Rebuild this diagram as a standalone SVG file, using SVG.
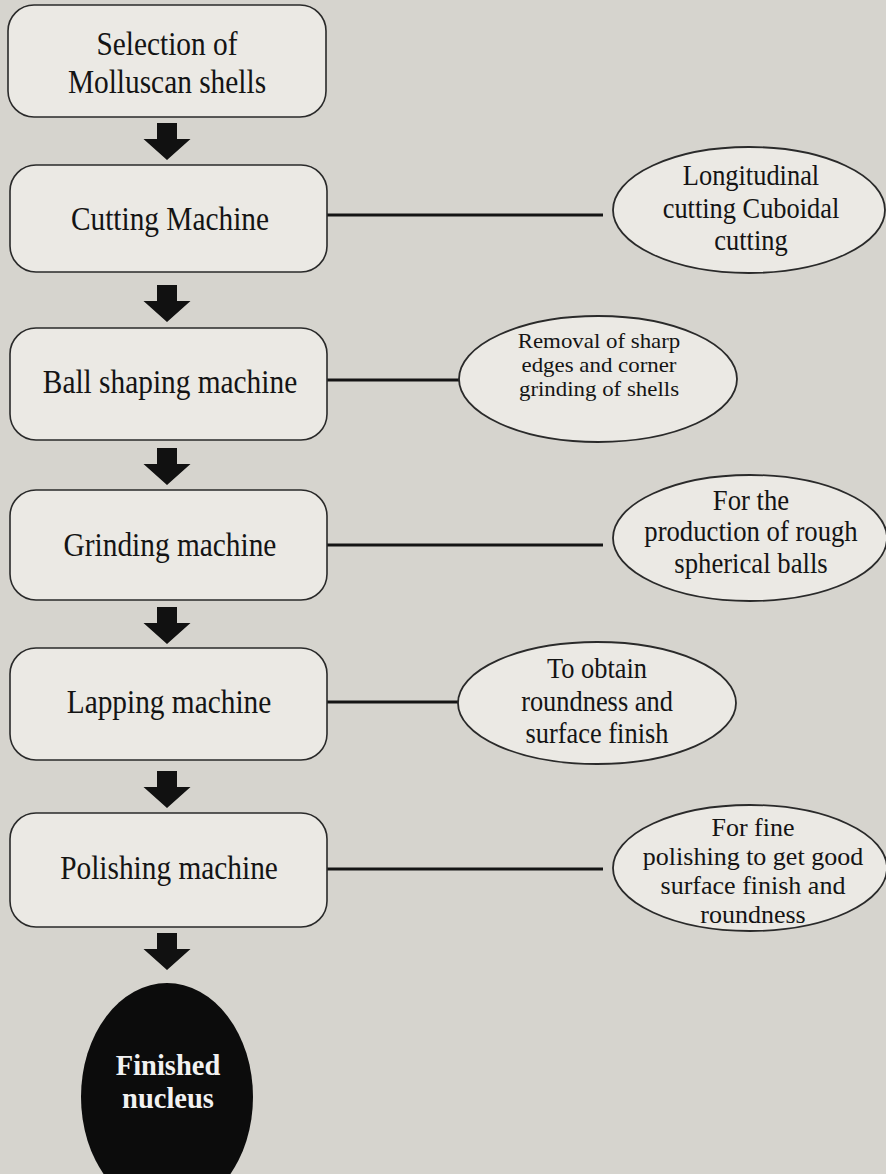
<svg xmlns="http://www.w3.org/2000/svg" width="886" height="1174" viewBox="0 0 886 1174">
  <defs>
    <style>
      .bg { fill: #d6d4ce; }
      .box { fill: #ebe9e4; stroke: #2a2a2a; stroke-width: 1.6; }
      .ell { fill: #ebe9e4; stroke: #2a2a2a; stroke-width: 1.8; }
      .conn { stroke: #141414; stroke-width: 3; fill: none; }
      .arrow { fill: #111111; }
      .t { font-family: "Liberation Serif", "Times New Roman", serif; fill: #141414; text-anchor: middle; }
      .tb { font-size: 33px; }
      .te { font-size: 30px; }
      .ts { font-size: 22px; }
      .tp { font-size: 26px; }
      .tf { font-family: "Liberation Serif", "Times New Roman", serif; font-weight: bold; font-size: 30px; fill: #f2f2f2; text-anchor: middle; }
    </style>
    <path id="arr" d="M -10 0 H 10 V 16 H 23.5 L 0 37 L -23.5 16 H -10 Z"/>
  </defs>

  <rect class="bg" x="0" y="0" width="886" height="1174"/>

  <g id="connectors">
    <line class="conn" x1="327" y1="215" x2="603" y2="215"/>
    <line class="conn" x1="327" y1="380" x2="459" y2="380"/>
    <line class="conn" x1="327" y1="545" x2="603" y2="545"/>
    <line class="conn" x1="327" y1="702" x2="458" y2="702"/>
    <line class="conn" x1="327" y1="869" x2="603" y2="869"/>
    <use href="#arr" class="arrow" x="167" y="123"/>
    <use href="#arr" class="arrow" x="167" y="285"/>
    <use href="#arr" class="arrow" x="167" y="448"/>
    <use href="#arr" class="arrow" x="167" y="607"/>
    <use href="#arr" class="arrow" x="167" y="771"/>
    <use href="#arr" class="arrow" x="167" y="933"/>
  </g>

  <g id="node-selection">
    <rect class="box" x="8" y="5" width="318" height="112" rx="26"/>
    <text class="t tb" transform="translate(167,55) scale(0.89,1)">Selection of</text>
    <text class="t tb" transform="translate(167,93) scale(0.89,1)">Molluscan shells</text>
  </g>

  <g id="node-cutting">
    <rect class="box" x="10" y="165" width="317" height="107" rx="26"/>
    <text class="t tb" transform="translate(170,230) scale(0.89,1)">Cutting Machine</text>
  </g>

  <g id="node-ballshaping">
    <rect class="box" x="10" y="328" width="317" height="112" rx="26"/>
    <text class="t tb" transform="translate(170,393) scale(0.89,1)">Ball shaping machine</text>
  </g>

  <g id="node-grinding">
    <rect class="box" x="10" y="490" width="317" height="110" rx="26"/>
    <text class="t tb" transform="translate(170,556) scale(0.89,1)">Grinding machine</text>
  </g>

  <g id="node-lapping">
    <rect class="box" x="10" y="648" width="317" height="112" rx="26"/>
    <text class="t tb" transform="translate(169,713) scale(0.89,1)">Lapping machine</text>
  </g>

  <g id="node-polishing">
    <rect class="box" x="10" y="813" width="317" height="114" rx="26"/>
    <text class="t tb" transform="translate(169,879) scale(0.89,1)">Polishing machine</text>
  </g>

  <g id="node-finished">
    <ellipse cx="167" cy="1097" rx="86" ry="114" fill="#0c0c0c"/>
    <text class="tf" transform="translate(168,1075) scale(0.95,1)">Finished</text>
    <text class="tf" transform="translate(168,1108) scale(0.95,1)">nucleus</text>
  </g>

  <g id="note-cutting">
    <ellipse class="ell" cx="749" cy="210" rx="136" ry="63"/>
    <text class="t te" transform="translate(751,185) scale(0.88,1)">Longitudinal</text>
    <text class="t te" transform="translate(751,218) scale(0.88,1)">cutting Cuboidal</text>
    <text class="t te" transform="translate(751,250) scale(0.88,1)">cutting</text>
  </g>

  <g id="note-ballshaping">
    <ellipse class="ell" cx="598" cy="379" rx="139" ry="63"/>
    <text class="t ts" transform="translate(599,348) scale(1.04,1)">Removal of sharp</text>
    <text class="t ts" transform="translate(599,372) scale(1.04,1)">edges and corner</text>
    <text class="t ts" transform="translate(599,396) scale(1.04,1)">grinding of shells</text>
  </g>

  <g id="note-grinding">
    <ellipse class="ell" cx="750" cy="538" rx="137" ry="63"/>
    <text class="t te" transform="translate(751,510) scale(0.89,1)">For the</text>
    <text class="t te" transform="translate(751,541) scale(0.89,1)">production of rough</text>
    <text class="t te" transform="translate(751,573) scale(0.89,1)">spherical balls</text>
  </g>

  <g id="note-lapping">
    <ellipse class="ell" cx="597" cy="703" rx="139" ry="61"/>
    <text class="t te" transform="translate(597,678) scale(0.88,1)">To obtain</text>
    <text class="t te" transform="translate(597,711) scale(0.88,1)">roundness and</text>
    <text class="t te" transform="translate(597,743) scale(0.88,1)">surface finish</text>
  </g>

  <g id="note-polishing">
    <ellipse class="ell" cx="750" cy="868" rx="137" ry="63"/>
    <text class="t tp" transform="translate(753,836)">For fine</text>
    <text class="t tp" transform="translate(753,865)">polishing to get good</text>
    <text class="t tp" transform="translate(753,894)">surface finish and</text>
    <text class="t tp" transform="translate(753,923)">roundness</text>
  </g>
</svg>
